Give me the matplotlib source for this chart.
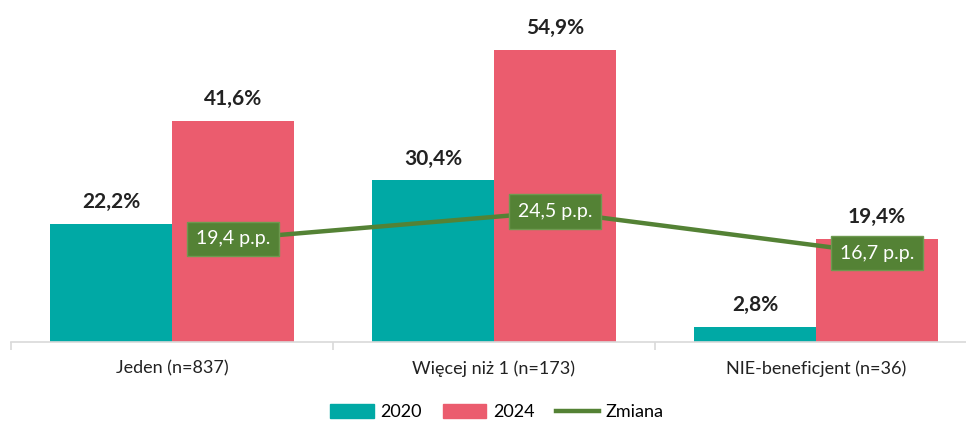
import numpy as np
import matplotlib
matplotlib.use('Agg')
from matplotlib import pyplot as plt
from matplotlib.patches import Patch
from matplotlib.lines import Line2D

plt.rcParams['font.family'] = ['Lato', 'DejaVu Sans']

categories = ['Jeden (n=837)', 'Więcej niż 1 (n=173)', 'NIE-beneficjent (n=36)']
val_2020 = [22.2, 30.4, 2.8]
val_2024 = [41.6, 54.9, 19.4]
zmiana = [19.4, 24.5, 16.7]

teal = '#00A9A5'
pink = '#EB5C6E'
green = '#548235'

fig = plt.figure(figsize=(9.66, 4.21), dpi=100)
ax = fig.add_axes([11 / 966, 79 / 421, 966 / 966, 319 / 421])

x = np.arange(len(categories))
w = 0.379
ax.bar(x - w / 2, val_2020, w, color=teal)
ax.bar(x + w / 2, val_2024, w, color=pink)

for xi, v in zip(x - w / 2, val_2020):
    ax.text(xi, v + 2.2, f'{v:.1f}%'.replace('.', ','), ha='center', va='bottom',
            fontsize=15, fontweight='bold', color='#222222')
for xi, v in zip(x + w / 2, val_2024):
    ax.text(xi, v + 2.2, f'{v:.1f}%'.replace('.', ','), ha='center', va='bottom',
            fontsize=15, fontweight='bold', color='#222222')

ax.plot(x + w / 2, zmiana, color=green, lw=3.2, solid_capstyle='round')
for xi, v in zip(x + w / 2, zmiana):
    ax.text(xi, v, f'{v:.1f} p.p.'.replace('.', ',', 1), ha='center', va='center',
            fontsize=14, color='white',
            bbox=dict(boxstyle='square,pad=0.45', fc=green, ec='#6E9A50', lw=1))

ax.set_xlim(-0.5, 2.5)
ax.set_ylim(0, 60)
ax.set_yticks([])
for s in ['top', 'right', 'left']:
    ax.spines[s].set_visible(False)
ax.spines['bottom'].set_color('#D9D9D9')
ax.spines['bottom'].set_linewidth(1.2)
ax.set_xticks([-0.5, 0.5, 1.5, 2.5])
ax.set_xticklabels([])
ax.tick_params(axis='x', length=6, color='#D9D9D9', direction='out', width=1.2)
ax.set_xticks(x, minor=True)
ax.set_xticklabels(categories, minor=True, fontsize=13, color='#222222')
ax.tick_params(axis='x', which='minor', length=0, pad=13)

handles = [Patch(color=teal, label='2020'), Patch(color=pink, label='2024'),
           Line2D([0], [0], color=green, lw=3.2, label='Zmiana')]
fig.legend(handles=handles, loc='center', bbox_to_anchor=(497 / 966, 1 - 412 / 421),
           ncol=3, frameon=False, fontsize=13, handlelength=2.4, handleheight=0.8,
           columnspacing=1.2, handletextpad=0.35)

fig.savefig('out.png', dpi=100)
